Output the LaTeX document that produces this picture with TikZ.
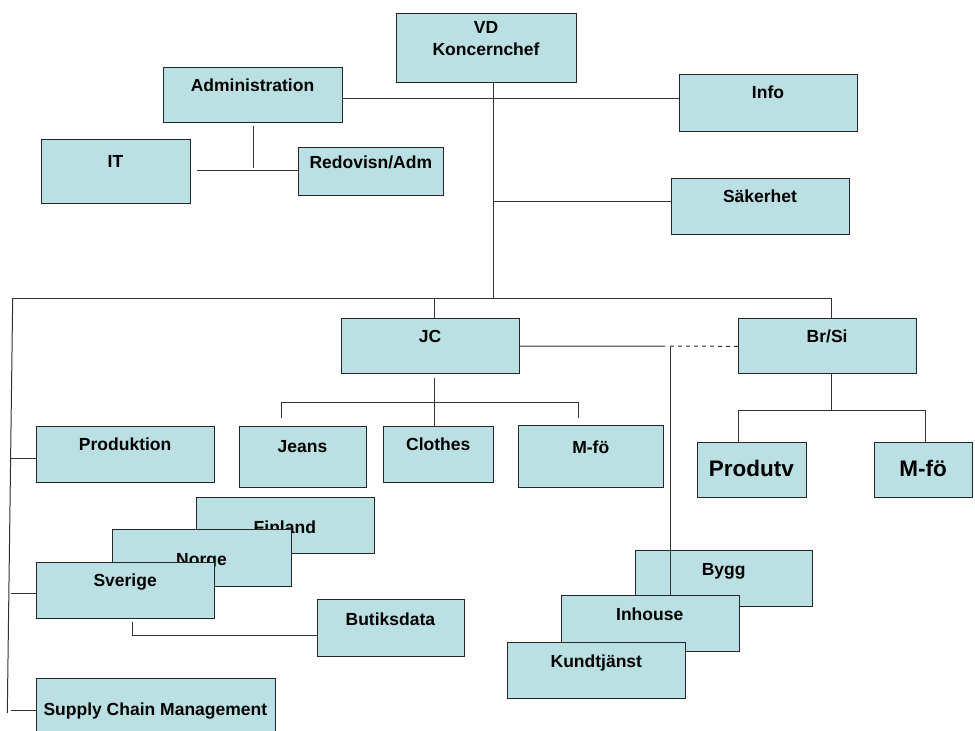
\documentclass[tikz,border=0pt]{standalone}
\usepackage{fontspec}
\setmainfont{Liberation Sans}
\definecolor{boxfill}{RGB}{186,224,228}
\definecolor{boxedge}{RGB}{38,38,38}
\definecolor{linkgray}{RGB}{50,50,50}
\tikzset{
  orgbox/.style={draw=boxedge, line width=1.1pt, fill=boxfill, inner sep=0pt, anchor=north west},
  orglabel/.style={font=\bfseries\fontsize{17.5pt}{21pt}\selectfont, inner sep=0pt, anchor=base, text=black},
  biglabel/.style={orglabel, font=\bfseries\fontsize{22.5pt}{27pt}\selectfont},
  link/.style={draw=linkgray, line width=1pt},
  dottedlink/.style={link, dash pattern=on 4pt off 4pt},
}
% box: [label style]{name}{x1}{y1}{x2}{y2}{baseline}{text}
\newcommand\orgunit[8][orglabel]{%
  \node[orgbox, minimum width={#5pt-#3pt}, minimum height={#6pt-#4pt}] (#2) at (#3,#4) {};
  \node[#1] (#2-text) at ({(#3+#5)/2},#7) {#8};}
\begin{document}
\begin{tikzpicture}[x=1pt,y=-1pt]
\useasboundingbox (0,0) rectangle (975,731);
\clip (0,0) rectangle (975,731);

% ---- connector anchor points ----
\coordinate (trunk) at (493,298);
\coordinate (infoY) at (0,98.3);
\coordinate (sakY) at (0,201.7);
\coordinate (itEnd) at (196.7,170);
\coordinate (adminEnd) at (0,168);
\coordinate (leftTop) at (12.7,298);
\coordinate (leftBot) at (7.3,713);
\coordinate (jcDrop) at (434,298);
\coordinate (brDrop) at (831.7,298);
\coordinate (jcBus) at (434,402.3);
\coordinate (jeansBus) at (281.7,402.3);
\coordinate (mfoBus) at (578,402.3);
\coordinate (brBus) at (831.7,410);
\coordinate (prodBus) at (738.3,410);
\coordinate (mfoBBus) at (925,410);
\coordinate (split) at (670,346);
\coordinate (solidEnd) at (665,346);
\coordinate (sveDrop) at (132.3,621.7);
\coordinate (sveCorner) at (132.3,635);

% ---- top part ----
\orgunit{admin}{163}{66.7}{342}{122.3}{91.7}{Administration}
\orgunit{info}{679.3}{74.3}{856.7}{130.7}{98.3}{Info}
\orgunit{sak}{671}{178.3}{849}{234}{202.7}{Säkerhet}
\orgunit{it}{41}{139.3}{190}{202.7}{167.7}{IT}
\orgunit{redov}{298.3}{146.7}{443.3}{195}{168.3}{Redovisn/Adm}

% connectors of the top part
\draw[link] (admin.east |- infoY) -- (info.west |- infoY);
\draw[link] (trunk |- sakY) -- (sak.west |- sakY);
\draw[link] ([yshift=-2.7pt]admin.south) -- (admin.south |- adminEnd);
\draw[link] (itEnd) -- (redov.west |- itEnd);

% managing director
\node[orgbox, minimum width=180.3pt, minimum height=69pt] (vd) at (395.7,12.7) {};
\node[orglabel] (vd-text) at (486,33.3) {VD};
\node[orglabel] (vd-text2) at (486,55) {Koncernchef};
\draw[link] (vd.south -| trunk) -- (trunk);

% ---- main bus ----
\draw[link] (leftTop) -- (brDrop);
\draw[link] (leftTop) -- (leftBot);
\draw[link] (jcDrop) -- (434,317.7);
\draw[link] (brDrop) -- (831.7,318.3);

\orgunit{jc}{341}{317.7}{519}{373.3}{342.3}{JC}
\orgunit{brsi}{738.3}{318.3}{916}{373.3}{342.7}{Br/Si}

% JC branch
\draw[link] (jc.east) -- (solidEnd);
\draw[dottedlink] (split) -- (brsi.west);
\draw[link] (434,378) -- (jcBus);
\draw[link] (jeansBus) -- (mfoBus);
\draw[link] (jcBus) -- (434,425.7);
\draw[link] (jeansBus) -- (281.7,417.7);
\draw[link] (mfoBus) -- (578,418);

\orgunit{jeans}{239}{425.7}{366}{486.7}{452.7}{Jeans}
\orgunit{clothes}{383.3}{425.7}{493.3}{481.7}{450}{Clothes}
\orgunit{mfoA}{518.3}{425}{663.3}{486.7}{453.3}{M-fö}

% Br/Si branch
\draw[link] (brsi.south -| brBus) -- (brBus);
\draw[link] (prodBus) -- (mfoBBus);
\draw[link] (prodBus) -- (738.3,441.7);
\draw[link] (mfoBBus) -- (925,441.7);
\orgunit[biglabel]{produtv}{696.7}{441.7}{806}{497}{476.7}{Produtv}
\orgunit[biglabel]{mfoB}{874.3}{441.7}{972}{497}{476.7}{M-fö}

% ---- left column ----
\draw[link] (11,458) -- (36,458);
\draw[link] (11,593) -- (36,593);
\draw[link] (11,710) -- (36,710);
\orgunit{prod}{36}{425.7}{214.3}{481.7}{450.7}{Produktion}

\draw[link] (sveDrop) -- (sveCorner) -- (316.7,635);
\orgunit{finland}{195.7}{497.3}{374}{553.3}{533.3}{Finland}
\orgunit{norge}{112.3}{529.3}{290.7}{585.7}{565}{Norge}
\orgunit{sverige}{36}{561.7}{214.3}{617.7}{586}{Sverige}
\orgunit{butik}{316.7}{599.3}{464}{655.7}{625}{Butiksdata}
\orgunit{scm}{36}{678}{274.7}{740}{715}{Supply Chain Management}

% ---- service units ----
\orgunit{bygg}{635}{550}{812.3}{606}{575}{Bygg}
\draw[link] (split) -- (670,595);
\orgunit{inhouse}{560.7}{595}{738.7}{651}{620}{Inhouse}
\orgunit{kund}{507.3}{642.3}{685.3}{698.3}{667.3}{Kundtjänst}
\end{tikzpicture}
\end{document}
